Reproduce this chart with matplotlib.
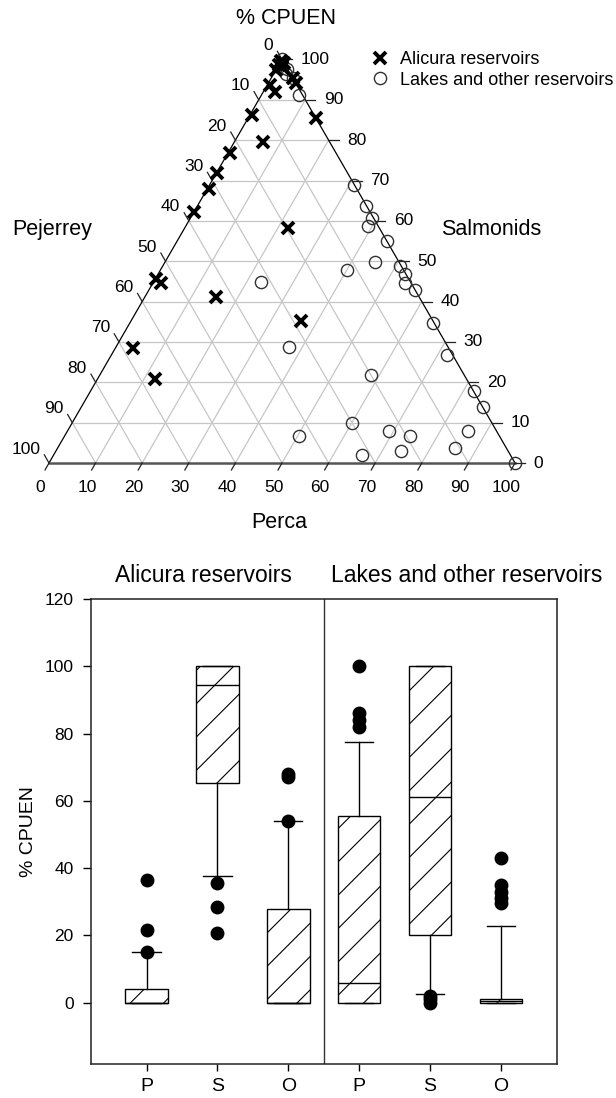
import numpy as np
import matplotlib.pyplot as plt

plt.rcParams['font.family'] = ['Liberation Sans', 'DejaVu Sans']

# ternary composition (% CPUEN) read off the triangle:
# left axis (Pejerrey), right axis (Salmonids), bottom axis (Perca)
alicura_pej = [0.5, 0.0, 1.4, 1.0, 2.5, 0.0, 0.0, 5.8, 5.5, 13.4, 0.0, 14.3,
               22.8, 27.9, 31.8, 37.7, 19.7, 54.2, 53.7, 43.6, 28.2, 67.7, 66.9]
alicura_sal = [99.5, 99.0, 98.6, 98.2, 97.5, 95.3, 94.1, 93.7, 92.0, 86.2, 85.4, 79.6,
               76.7, 71.9, 67.8, 62.3, 58.2, 45.5, 44.5, 41.1, 35.3, 28.4, 20.7]
alicura_per = [0.0, 1.0, 0.0, 0.8, 0.0, 4.7, 5.9, 0.5, 2.5, 0.4, 14.6, 6.1,
               0.5, 0.2, 0.4, 0.0, 22.1, 0.3, 1.8, 15.3, 36.5, 3.9, 12.4]

lakes_pej = [0.0, 0.0, 0.9, 0.0, 0.6, 0.0, 0.1, 0.4, 2.1, 0.0, 5.2, 12.2, 0.3, 0.2, 1.2, 0.0,
             32.2, 0.1, 34.1, 1.1, 20.1, 0.0, 0.0, 30.0, 43.0, 23.1, 19.1, 6.2, 31.9, 23.0, 11.0, 0.0]
lakes_sal = [100.0, 97.7, 96.5, 95.3, 91.3, 68.9, 63.7, 60.6, 58.7, 55.0, 49.9, 47.8, 48.8, 46.8, 44.7, 42.9,
             44.8, 34.8, 28.8, 26.8, 21.8, 17.8, 13.8, 9.8, 6.8, 7.9, 6.8, 7.9, 2.0, 3.0, 3.8, 0.0]
lakes_per = [0.0, 2.3, 2.6, 4.7, 8.1, 31.1, 36.2, 39.0, 39.2, 45.0, 44.9, 40.0, 50.9, 53.0, 54.1, 57.1,
             23.0, 65.1, 37.1, 72.1, 58.1, 82.2, 86.2, 60.2, 50.2, 69.0, 74.1, 85.9, 66.1, 74.0, 85.2, 100.0]

tern_ticks = list(range(0, 101, 10))

# box plot summaries (% CPUEN)
box_labels = ['P', 'S', 'O', 'P', 'S', 'O']
box_q1 = [0.0, 65.4, 0.0, 0.0, 20.0, 0.0]
box_med = [0.0, 94.4, 0.0, 6.0, 61.1, 0.5]
box_q3 = [4.1, 100.0, 27.9, 55.6, 100.0, 1.0]
box_wlo = [0.0, 37.8, 0.0, 0.0, 2.5, 0.0]
box_whi = [15.0, 100.0, 53.9, 77.4, 100.0, 22.9]
box_fliers = [[15.0, 21.6, 36.4], [20.8, 28.6, 35.5], [53.9, 67.0, 68.0],
              [82.1, 84.1, 86.1, 100.0], [0.0, 1.0, 2.0], [29.6, 31.1, 33.0, 35.0, 43.0]]
panel_titles = ['Alicura reservoirs', 'Lakes and other reservoirs']

H = np.sqrt(3) / 2
W, HT = 616, 1098


def to_xy(sal, per):
    sal = np.asarray(sal, float)
    per = np.asarray(per, float)
    return per + sal / 2, sal * H


fig = plt.figure(figsize=(W / 100, HT / 100), dpi=100)

# ---------------- ternary ----------------
k = 4.66  # px per unit
top_h = 540
ax_t = fig.add_axes([0, 1 - top_h / HT, 1, top_h / HT])
xmin = -49 / k
ymax = 463 / k
ax_t.set_xlim(xmin, xmin + W / k)
ax_t.set_ylim(ymax - top_h / k, ymax)
ax_t.axis('off')

grid_kw = dict(color='#c6c6c6', lw=0.9, zorder=1)
for v in tern_ticks[1:-1]:
    # constant Salmonids
    ax_t.plot(*to_xy([v, v], [0, 100 - v]), **grid_kw)
    # constant Perca
    ax_t.plot(*to_xy([0, 100 - v], [v, v]), **grid_kw)
    # constant Pejerrey
    ax_t.plot(*to_xy([0, 100 - v], [100 - v, 0]), **grid_kw)

ax_t.plot(*to_xy([0, 100], [0, 0]), color='black', lw=0.9, zorder=2)
ax_t.plot(*to_xy([0, 100], [100, 0]), color='black', lw=0.9, zorder=2)
ax_t.plot(*to_xy([0, 0], [0, 100]), color='#555555', lw=1.8, zorder=2)

tick_kw = dict(color='#222222', lw=0.9, zorder=2)
tl = 12.5
for v in tern_ticks:
    # right axis (Salmonids): horizontal ticks
    x, y = to_xy(v, 100 - v)
    ax_t.plot([x, x + 2.15], [y, y], **tick_kw)
    ax_t.text(x + 4.0, y, str(v), ha='left', va='center', fontsize=tl)
    # bottom axis (Perca): ticks parallel to left edge
    x, y = to_xy(0, v)
    ax_t.plot([x, x - 0.85], [y, y - 1.5], **tick_kw)
    ax_t.text(x - 1.8, y - 3.6, str(v), ha='center', va='top', fontsize=tl)
    # left axis (Pejerrey): ticks parallel to right edge
    x, y = to_xy(100 - v, 0)
    ax_t.plot([x, x - 1.0], [y, y + 1.75], **tick_kw)
    ax_t.text(x - 1.9, y + 3.0, str(v), ha='right', va='center', fontsize=tl)

xa, ya = to_xy(alicura_sal, alicura_per)
xl, yl = to_xy(lakes_sal, lakes_per)
h_l, = ax_t.plot(xl, yl, 'o', ms=8.8, mfc='none', mec='#303030', mew=1.0,
                 linestyle='none', zorder=3, label='Lakes and other reservoirs')
h_a, = ax_t.plot(xa, ya, 'x', ms=8.3, mec='black', mew=2.8,
                 linestyle='none', zorder=4, label='Alicura reservoirs')

ax_t.legend([h_a, h_l], ['Alicura reservoirs', 'Lakes and other reservoirs'],
            loc='upper left', bbox_to_anchor=(371 / W, 1 - 51 / HT),
            bbox_transform=fig.transFigure, frameon=False, fontsize=13,
            handlelength=1.0, handletextpad=0.6, borderpad=0, borderaxespad=0,
            labelspacing=0.2)

lab = 15.5
fig.text(286 / W, 1 - 19 / HT, '% CPUEN', ha='center', va='center', fontsize=lab)
fig.text(52 / W, 1 - 230 / HT, 'Pejerrey', ha='center', va='center', fontsize=lab)
fig.text(491 / W, 1 - 230 / HT, 'Salmonids', ha='center', va='center', fontsize=lab)
fig.text(279 / W, 1 - 522 / HT, 'Perca', ha='center', va='center', fontsize=lab)

# ---------------- box plot ----------------
ax_b = fig.add_axes([90.5 / W, 1 - 1064 / HT, 466.5 / W, 465 / HT])
positions = list(range(1, len(box_labels) + 1))
stats = []
for i in range(len(box_labels)):
    stats.append(dict(label=box_labels[i], q1=box_q1[i], med=box_med[i], q3=box_q3[i],
                      whislo=box_wlo[i], whishi=box_whi[i], fliers=box_fliers[i]))

plt.rcParams['hatch.linewidth'] = 0.8
ax_b.bxp(stats, positions=positions, widths=0.6, capwidths=0.4, patch_artist=True,
         boxprops=dict(facecolor='white', edgecolor='black', hatch='/', linewidth=1.0),
         medianprops=dict(color='black', linewidth=1.0),
         whiskerprops=dict(color='black', linewidth=1.0),
         capprops=dict(color='black', linewidth=1.0),
         flierprops=dict(marker='o', markerfacecolor='black', markeredgecolor='black',
                         markersize=9, linestyle='none'))
ax_b.axvline(3.5, color='#333333', lw=1.0)
ax_b.set_xlim(0.21, 6.79)
ax_b.set_ylim(-18.2, 120)
ax_b.set_yticks(range(0, 121, 20))
ax_b.set_xticks(positions)
ax_b.set_xticklabels(box_labels, fontsize=14)
ax_b.tick_params(axis='y', direction='out', length=6, width=1, labelsize=12.5, pad=6)
ax_b.tick_params(axis='x', direction='out', length=5, width=1, pad=5)
for sp in ax_b.spines.values():
    sp.set_linewidth(1.1)
    sp.set_color('#222222')

fig.text(28.5 / W, 1 - 831.5 / HT, '% CPUEN', rotation=90, ha='center', va='center', fontsize=14)
fig.text(203 / W, 1 - 575 / HT, panel_titles[0], ha='center', va='center', fontsize=16.5)
fig.text(467 / W, 1 - 575 / HT, panel_titles[1], ha='center', va='center', fontsize=16.5)

fig.savefig('out.png', dpi=100)
